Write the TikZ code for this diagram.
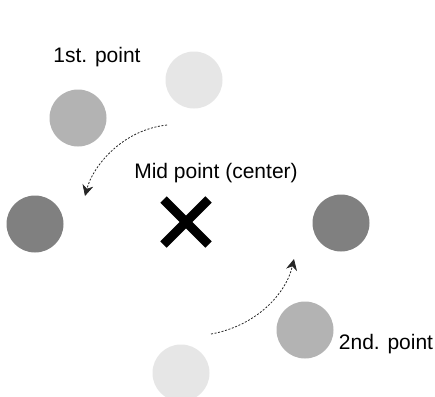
\documentclass[tikz,border=0pt]{standalone}
\usepackage{fontspec}
\setmainfont{Liberation Sans}
\usetikzlibrary{arrows.meta,shapes.misc}
\definecolor{light}{HTML}{E6E6E6}
\definecolor{medium}{HTML}{B3B3B3}
\definecolor{darkc}{HTML}{808080}
\tikzset{
  dot/.style={circle, minimum size=57pt, inner sep=0pt, draw=none},
  lbl/.style={font=\fontsize{21}{25}\selectfont, inner sep=0pt, anchor=center},
  move/.style={dash pattern=on 2pt off 1.6pt, line width=0.8pt, draw=black!85,
    -{Stealth[length=11pt,width=11pt,inset=3.5pt]}},
  mid/.style={cross out, draw=black, line width=9pt, minimum size=36pt, inner sep=0pt}
}
\begin{document}
\begin{tikzpicture}[x=1pt,y=-1pt]
\clip (0,0) rectangle (435,396);
\fill[white] (0,0) rectangle (435,396);
% first point
\node[dot, fill=light] (a1) at (194,80) {};
\node[dot, fill=medium] (a2) at (78,118) {};
\node[dot, fill=darkc] (a3) at (35,224) {};
% second point
\node[dot, fill=light] (b1) at (181,373) {};
\node[dot, fill=medium] (b2) at (305,330) {};
\node[dot, fill=darkc] (b3) at (341,223) {};
% center
\node[mid] (c) at (186,222) {};
% labels
\node[lbl] (t1) at (97,57) {1st. point};
\node[lbl] (tc) at (216,173) {Mid point (center)};
\node[lbl] (t2) at (386,344) {2nd. point};
% arrows
\coordinate (s1) at (167,125);
\coordinate (e1) at (85,196);
\coordinate (s2) at (211,334);
\coordinate (e2) at (294,259);
\draw[move] (s1) .. controls (122,130) and (93,166) .. (e1);
\draw[move] (s2) .. controls (256,326) and (286,294) .. (e2);
\end{tikzpicture}
\end{document}
